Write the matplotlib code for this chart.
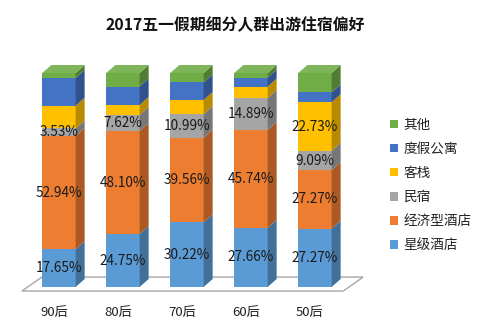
import numpy as np
import matplotlib
matplotlib.use("Agg")
import matplotlib.pyplot as plt
from matplotlib.patches import Polygon
from matplotlib import colors as mcolors

plt.rcParams['font.family'] = ['Noto Sans CJK SC', 'DejaVu Sans']

# data (percent)
groups = ['90后', '80后', '70后', '60后', '50后']
series_names = ['星级酒店', '经济型酒店', '民宿', '客栈', '度假公寓', '其他']
star_hotel = [17.65, 24.75, 30.22, 27.66, 27.27]
budget_hotel = [52.94, 48.10, 39.56, 45.74, 27.27]
homestay = [3.53, 7.62, 10.99, 14.89, 9.09]
inn = [10.59, 4.60, 6.59, 5.32, 22.73]
apartment = [12.94, 8.60, 8.24, 4.26, 4.55]
other = [2.35, 6.33, 4.40, 2.13, 9.09]
# which segments carry a value label
star_lbl = [True] * 5
budget_lbl = [True] * 5
homestay_lbl = [True] * 5
inn_lbl = [False, False, False, False, True]
apartment_lbl = [False] * 5
other_lbl = [False] * 5

series = [star_hotel, budget_hotel, homestay, inn, apartment, other]
show = [star_lbl, budget_lbl, homestay_lbl, inn_lbl, apartment_lbl, other_lbl]
palette = ['#5B9BD5', '#ED7D31', '#A5A5A5', '#FFC000', '#4472C4', '#70AD47']

def shade(c, f):
    r, g, b = mcolors.to_rgb(c)
    return (r * f, g * f, b * f)

def tint(c, f):
    r, g, b = mcolors.to_rgb(c)
    return (r + (1 - r) * f, g + (1 - g) * f, b + (1 - b) * f)

fig = plt.figure(figsize=(4.84, 3.36), dpi=100)
ax = fig.add_axes([0, 0, 1, 1])
# pixel mapping: x px = 59 + 64*x ; y px(from bottom) = 49 + 2.14*y
ax.set_xlim(-59 / 64, (484 - 59) / 64)
ax.set_ylim(-49 / 2.14, (336 - 49) / 2.14)
ax.axis('off')

w = 0.52
dx = 9 / 64
dy = 8 / 2.14
x = np.arange(len(groups))

# floor
fdx, fdy = 20 / 64, 14 / 2.14
f0, f1 = -0.58, len(groups) - 1 + 0.44
fy = -1.9
floor = Polygon([(f0, fy), (f1, fy), (f1 + fdx, fy + fdy), (f0 + fdx, fy + fdy)],
                closed=True, facecolor='white', edgecolor='#A6A6A6', lw=1.0, zorder=1)
ax.add_patch(floor)

bottom = np.zeros(len(groups))
handles = []
for vals, lbls, col, name in zip(series, show, palette, series_names):
    vals = np.array(vals)
    h = ax.bar(x, vals, w, bottom=bottom, color=col, edgecolor='none', zorder=3, label=name)
    handles.append(h)
    for i in range(len(groups)):
        xr = x[i] + w / 2
        y0, y1 = bottom[i], bottom[i] + vals[i]
        side = Polygon([(xr, y0), (xr + dx, y0 + dy), (xr + dx, y1 + dy), (xr, y1)],
                       closed=True, facecolor=shade(col, 0.72), edgecolor='none', zorder=3)
        ax.add_patch(side)
        if lbls[i]:
            ax.text(x[i], (y0 + y1) / 2, f'{vals[i]:.2f}%', ha='center', va='center',
                    fontsize=9.8, color='#1a1a1a', zorder=5)
    bottom = bottom + vals

# top faces
for i in range(len(groups)):
    xl, xr = x[i] - w / 2, x[i] + w / 2
    yt = bottom[i]
    top = Polygon([(xl, yt), (xl + dx, yt + dy), (xr + dx, yt + dy), (xr, yt)],
                  closed=True, facecolor=tint(palette[-1], 0.1), edgecolor='none', zorder=4)
    ax.add_patch(top)

for i, g in enumerate(groups):
    ax.text(x[i] - 0.08, -12, g, ha='center', va='center', fontsize=9.5, color='#222222')

fig.text(0.487, 0.925, '2017五一假期细分人群出游住宿偏好', ha='center', va='center',
         fontsize=11.4, fontweight='bold', color='#111111')

leg = ax.legend(handles[::-1], series_names[::-1], loc='upper left',
                bbox_to_anchor=(0.795, 0.665), bbox_transform=fig.transFigure,
                frameon=False, fontsize=9.8, handlelength=0.55, handleheight=0.55,
                handletextpad=0.4, labelspacing=0.74, borderaxespad=0)
for t in leg.get_texts():
    t.set_color('#222222')

fig.savefig('out.png', dpi=100)
